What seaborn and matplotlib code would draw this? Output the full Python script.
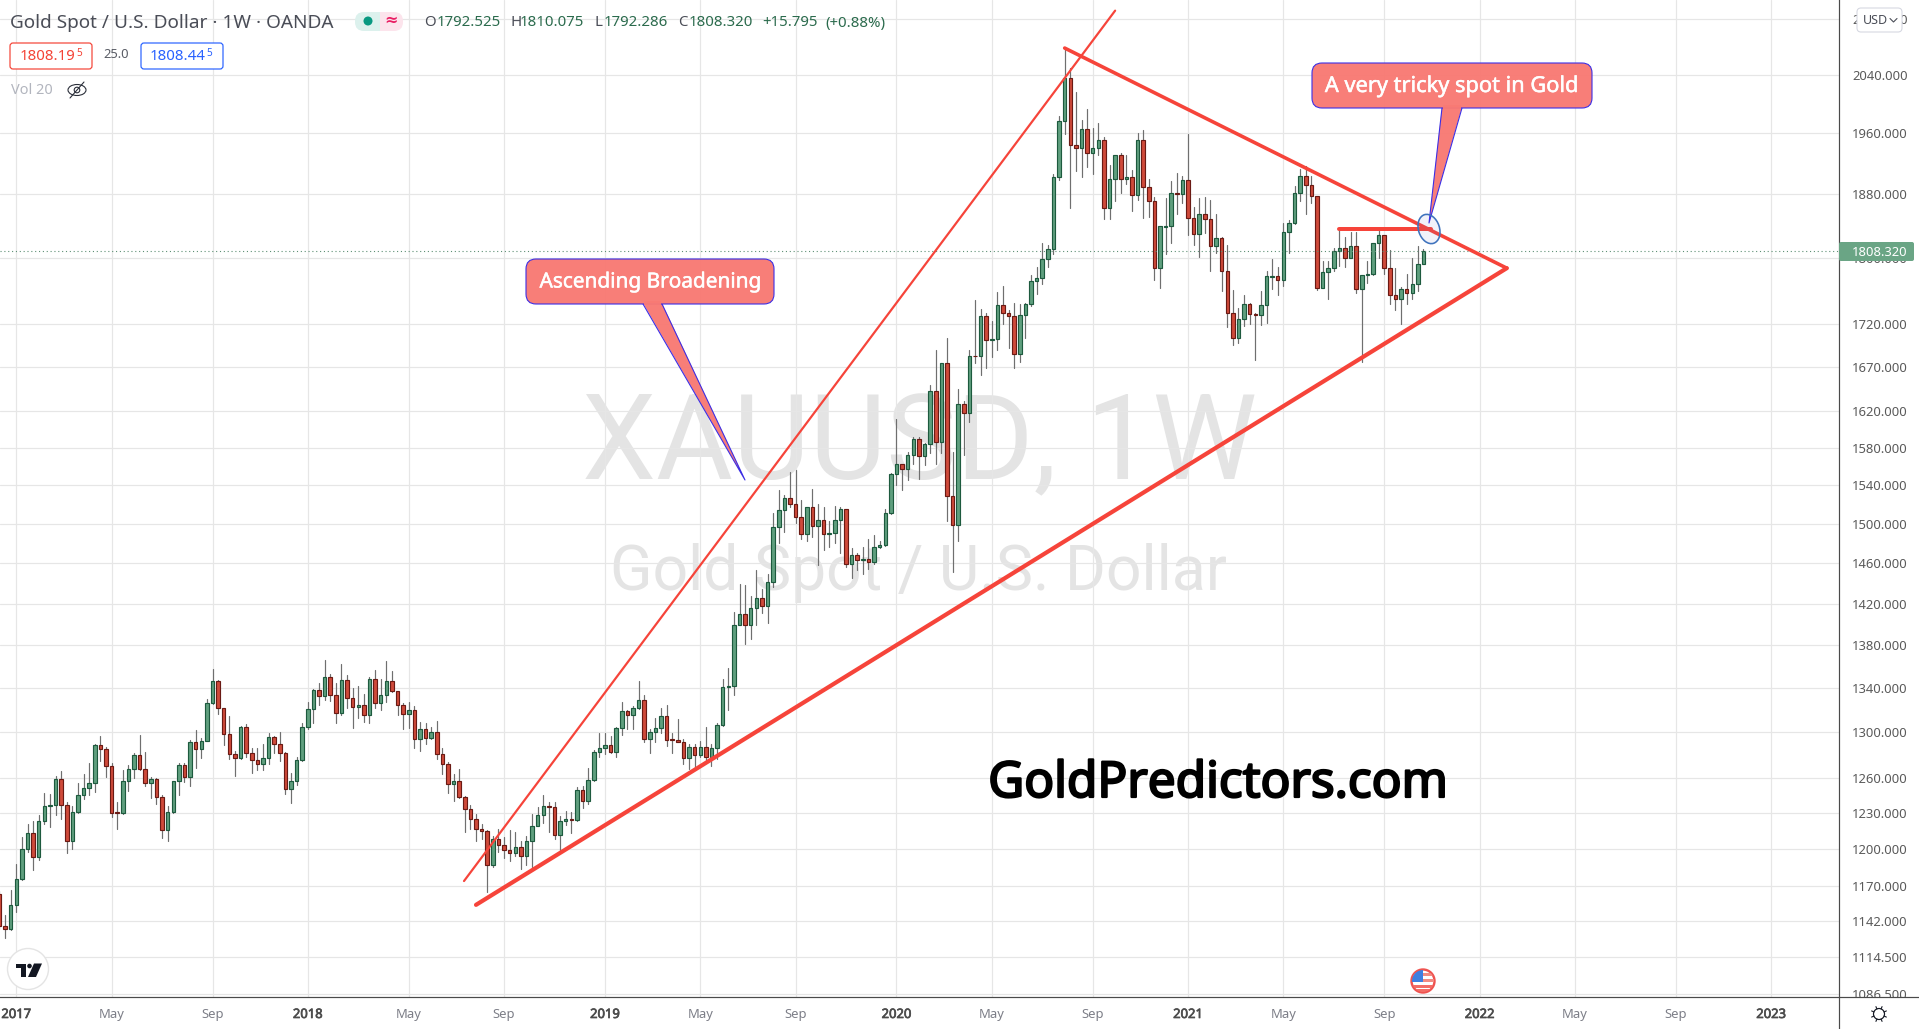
import numpy as np
import pandas as pd
import matplotlib
matplotlib.use("Agg")
import matplotlib.pyplot as plt
import matplotlib.patheffects as pe
import seaborn as sns
from matplotlib.patches import Circle, Ellipse, FancyBboxPatch, Polygon, Rectangle

# weekly XAUUSD candles
first_week = "2016-12-12"
opens = [
    1164, 1138.5, 1136, 1155, 1176, 1200, 1213, 1193.5, 1223, 1236,
    1237, 1259, 1237, 1207, 1231, 1245, 1251, 1256, 1289, 1285.5,
    1270, 1230.5, 1230, 1257, 1268, 1280, 1268, 1256, 1259, 1243.6,
    1215.4, 1231, 1257, 1270.8, 1260.6, 1291, 1285.5, 1292.6, 1326, 1347,
    1321.6, 1298.6, 1281, 1277.7, 1304.6, 1282, 1276, 1271.7, 1276.9, 1296,
    1290, 1282, 1250.3, 1257, 1276, 1304.6, 1320.7, 1338.7, 1332.4, 1350.4,
    1334, 1317, 1347.7, 1330.6, 1322.5, 1324.3, 1315.3, 1348.6, 1326, 1334,
    1347, 1337, 1324.3, 1316.2, 1320, 1294.3, 1303, 1295, 1300.3, 1281,
    1271.7, 1254.5, 1257, 1243.6, 1233.6, 1225.3, 1216.3, 1214.6, 1187, 1208,
    1203, 1199, 1196.7, 1201.6, 1194, 1206.5, 1219.5, 1228.5, 1236, 1235,
    1212, 1223.6, 1225.3, 1224.4, 1249.5, 1240, 1258, 1283, 1286.5, 1289,
    1283, 1303.8, 1319, 1315.3, 1321.6, 1328.8, 1294.3, 1300.3, 1303.8, 1314.4,
    1293.7, 1293.4, 1291.7, 1276.9, 1287, 1280, 1287, 1278.6, 1286.5, 1306.4,
    1341.4, 1342.3, 1399, 1410, 1399, 1415.6, 1425, 1418, 1441, 1496,
    1514, 1527, 1520, 1507, 1489, 1517, 1497, 1504, 1489, 1490,
    1504, 1515, 1459, 1468, 1463, 1464, 1461, 1476, 1478, 1511,
    1552, 1562, 1557, 1572, 1590, 1571, 1584, 1643, 1586, 1674,
    1529, 1499, 1628, 1618, 1683, 1683, 1729, 1701, 1702, 1742,
    1733, 1729, 1685, 1730, 1744, 1771, 1775, 1798, 1810, 1902,
    1977, 2036, 1944, 1940, 1966, 1934, 1940, 1951, 1862, 1899,
    1931, 1899, 1902, 1879, 1951, 1889, 1871, 1787, 1838, 1839,
    1881, 1880, 1898, 1849, 1829, 1855, 1848, 1814, 1824, 1784,
    1733, 1703, 1726, 1744, 1732, 1730, 1743, 1776, 1777, 1772,
    1832, 1843, 1881, 1903, 1892, 1878, 1763, 1782, 1787, 1808,
    1812, 1800, 1814, 1762, 1779, 1780, 1818, 1828, 1787, 1755,
    1750, 1762, 1757, 1768, 1792.525,
]
closes = [
    1138.5, 1136, 1155, 1176, 1200, 1213, 1193.5, 1223, 1236, 1237,
    1259, 1237, 1207, 1231, 1245, 1251, 1256, 1289, 1285.5, 1270,
    1230, 1230, 1257, 1268, 1280, 1268, 1256, 1259, 1243.6, 1215.4,
    1231, 1257, 1270.8, 1260.6, 1291, 1285.5, 1292.6, 1326, 1347, 1321.6,
    1298.6, 1281, 1277.7, 1304.6, 1282, 1276, 1271.7, 1276.9, 1296, 1290,
    1282, 1250.3, 1257, 1276, 1304.6, 1320.7, 1338.7, 1332.4, 1350.4, 1334,
    1317, 1347.7, 1330.6, 1322.5, 1324.3, 1315.3, 1348.6, 1326, 1334, 1347,
    1337, 1324.3, 1316.2, 1320, 1294.3, 1303, 1295, 1300.3, 1281, 1271.7,
    1254.5, 1257, 1243.6, 1233.6, 1225.3, 1216.3, 1214.6, 1187, 1208, 1203,
    1199, 1196.7, 1201.6, 1194, 1206.5, 1219.5, 1228.5, 1236, 1235, 1212,
    1223.6, 1225.3, 1224.4, 1249.5, 1240, 1258, 1283, 1286.5, 1289, 1283,
    1303.8, 1319, 1315.3, 1321.6, 1328.8, 1294.3, 1300.3, 1303.8, 1314.4, 1293.4,
    1293, 1291.7, 1276.9, 1287, 1280, 1287, 1278.6, 1286.5, 1306.4, 1341.4,
    1342.3, 1399, 1410, 1399, 1415.6, 1425, 1418, 1441, 1496, 1514,
    1527, 1520, 1507, 1489, 1517, 1497, 1504, 1489, 1490, 1504,
    1515, 1459, 1468, 1463, 1464, 1461, 1476, 1478, 1511, 1552,
    1562, 1557, 1572, 1590, 1571, 1584, 1643, 1586, 1674, 1529,
    1499, 1628, 1618, 1683, 1682, 1729, 1701, 1702, 1742, 1733,
    1729, 1685, 1730, 1744, 1771, 1775, 1798, 1810, 1902, 1977,
    2036, 1944, 1940, 1966, 1934, 1940, 1951, 1862, 1899, 1931,
    1899, 1902, 1879, 1951, 1889, 1871, 1787, 1839, 1839, 1881,
    1880, 1898, 1849, 1829, 1855, 1848, 1814, 1824, 1784, 1733,
    1703, 1726, 1744, 1732, 1730, 1743, 1777, 1777, 1772, 1832,
    1843, 1881, 1903, 1892, 1878, 1763, 1782, 1787, 1808, 1812,
    1800, 1814, 1762, 1779, 1780, 1818, 1828, 1787, 1755, 1750,
    1762, 1757, 1768, 1792.5, 1808.32,
]
highs = [
    1166, 1146.6, 1167, 1188, 1210, 1221, 1223, 1228, 1247, 1246.6,
    1262, 1265.7, 1239, 1236, 1255.7, 1263, 1273, 1290, 1297, 1287,
    1273, 1239, 1267, 1271.4, 1281.5, 1298, 1283, 1260.6, 1260, 1245,
    1236, 1257.7, 1272.6, 1272.6, 1293, 1302, 1294.6, 1330, 1358, 1347.5,
    1322, 1314.4, 1283.5, 1305.5, 1307, 1286, 1286, 1290, 1299, 1296.6,
    1300.3, 1282.3, 1264, 1278, 1308.4, 1327, 1339, 1345, 1366, 1353.4,
    1345, 1362, 1352.5, 1340.5, 1342, 1334.5, 1350.4, 1357, 1348.6, 1364.7,
    1356, 1337.5, 1326, 1327, 1323.4, 1309, 1308.4, 1304.6, 1310, 1286,
    1273.4, 1263.4, 1267.7, 1244.5, 1237, 1229, 1220.4, 1216, 1211, 1217,
    1210, 1215.4, 1214, 1206.8, 1211, 1229, 1235.5, 1245, 1239.6, 1239,
    1227.7, 1232, 1231, 1252, 1252.8, 1268.6, 1284, 1299.8, 1299, 1297,
    1304.6, 1327, 1320, 1323.4, 1347, 1333.6, 1302.6, 1312.6, 1321.6, 1325,
    1299, 1312, 1293.7, 1290, 1289.4, 1292.6, 1304.6, 1289.4, 1308, 1348.6,
    1358.6, 1412, 1439, 1438, 1427, 1453, 1434, 1449, 1511, 1535,
    1530, 1554, 1556, 1524, 1517, 1536, 1520, 1517, 1503, 1518,
    1517, 1515, 1475, 1470, 1476, 1484, 1488, 1482, 1515, 1553,
    1611, 1563, 1575, 1592, 1592, 1585, 1649, 1689, 1674, 1703,
    1575, 1645, 1632, 1690, 1748, 1738, 1733, 1723, 1758, 1765,
    1737, 1745, 1744, 1745, 1779, 1789, 1818, 1815, 1906, 1984,
    2078, 2050, 2016, 1978, 1993, 1967, 1974, 1955, 1918, 1931,
    1934, 1931, 1911, 1960, 1965, 1899, 1876, 1840, 1875, 1897,
    1907, 1903, 1959, 1863, 1875, 1876, 1872, 1855, 1825, 1816,
    1760, 1739, 1755, 1745, 1733, 1759, 1783, 1798, 1789, 1843,
    1847, 1891, 1913, 1917, 1904, 1878, 1796, 1796, 1812, 1835,
    1826, 1832, 1832, 1779, 1796, 1818, 1835, 1828, 1809, 1787,
    1764, 1780, 1800, 1814, 1810.075,
]
lows = [
    1136, 1129, 1135, 1149, 1175, 1198, 1183, 1191, 1221, 1218,
    1228.5, 1225, 1197, 1200, 1230, 1241.7, 1245, 1248, 1275, 1261,
    1227, 1217, 1229, 1249, 1260, 1266.5, 1253, 1242.5, 1237.5, 1209,
    1207, 1230, 1245, 1256.5, 1253.4, 1268.6, 1277, 1292, 1325.5, 1316.5,
    1289, 1276.6, 1262, 1276.6, 1278.6, 1264.5, 1266.5, 1267, 1272, 1281.5,
    1275, 1245.8, 1238.3, 1254.2, 1275, 1303, 1308, 1325, 1329, 1328.5,
    1308, 1315.6, 1321.6, 1303.5, 1313, 1309, 1308, 1322, 1320.4, 1327,
    1336, 1315.6, 1302.6, 1303.8, 1286, 1283.5, 1290, 1294, 1276.6, 1263,
    1247, 1240, 1242.5, 1213.8, 1217, 1207, 1208, 1165, 1185, 1198,
    1192.5, 1190, 1194, 1183.5, 1186.7, 1185, 1219, 1221.4, 1214, 1208.6,
    1199, 1220, 1213.5, 1223, 1234.7, 1237.5, 1257.7, 1278.3, 1281, 1282,
    1278.3, 1298, 1303, 1303, 1321, 1291.2, 1281.7, 1291.4, 1299, 1288,
    1281.7, 1291, 1272, 1267.7, 1268.6, 1278.3, 1275.7, 1270.5, 1276.6, 1306,
    1320.4, 1334, 1399, 1381, 1385.6, 1399, 1411, 1401, 1436, 1480,
    1491, 1517, 1501, 1484, 1482, 1486, 1458, 1473, 1476, 1480,
    1470, 1456, 1445, 1453, 1449, 1454, 1459, 1475, 1477, 1510,
    1540, 1535, 1545, 1563, 1546, 1561, 1574, 1563, 1574, 1503,
    1451, 1482, 1572, 1608, 1674, 1661, 1669, 1681, 1690, 1720,
    1692, 1669, 1676, 1703, 1741, 1756, 1768, 1789, 1805, 1898,
    1959, 1862, 1910, 1902, 1915, 1906, 1931, 1848, 1848, 1871,
    1881, 1893, 1858, 1872, 1849, 1851, 1773, 1763, 1805, 1818,
    1855, 1868, 1828, 1816, 1801, 1830, 1783, 1806, 1759, 1716,
    1695, 1698, 1718, 1720, 1678, 1719, 1721, 1762, 1755, 1765,
    1806, 1842, 1871, 1855, 1868, 1760, 1763, 1750, 1783, 1790,
    1788, 1800, 1757, 1676, 1769, 1779, 1800, 1780, 1744, 1736,
    1720, 1744, 1750, 1759, 1792.286,
]

last_price = 1808.32
price_ticks = [2120, 2040, 1960, 1880, 1800, 1720, 1670, 1620, 1580, 1540, 1500, 1460,
               1420, 1380, 1340, 1300, 1260, 1230, 1200, 1170, 1142, 1114.5, 1086.5]
time_ticks = ["2017-01-02", "2017-05-01", "2017-09-04", "2018-01-01", "2018-05-07", "2018-09-03",
              "2019-01-07", "2019-05-06", "2019-09-02", "2020-01-06", "2020-05-04", "2020-09-07",
              "2021-01-04", "2021-05-03", "2021-09-06", "2022-01-03", "2022-05-02", "2022-09-05",
              "2023-01-02"]
time_labels = ["2017", "May", "Sep", "2018", "May", "Sep", "2019", "May", "Sep", "2020", "May", "Sep",
               "2021", "May", "Sep", "2022", "May", "Sep", "2023"]

# drawn trend lines: dates, prices
thin_dates, thin_prices = ["2018-07-15", "2020-10-05"], [1174, 2132]
lower_dates, lower_prices = ["2018-07-30", "2022-02-06"], [1155, 1787]
upper_dates, upper_prices = ["2020-08-03", "2022-02-06"], [2078, 1787]
flat_dates, flat_prices = ["2021-07-11", "2021-11-04"], [1835, 1835]


def px(n):
    return n * 0.72


def heavy(width, color):
    # no bold cut of Noto Sans here, thicken the outline instead
    return [pe.withStroke(linewidth=px(width), foreground=color)]


sns.set_theme(style="white")
plt.rcParams["font.family"] = ["Noto Sans", "DejaVu Sans"]

W, H = 1919, 1029
fig = plt.figure(figsize=(W / 100, H / 100), dpi=100, facecolor="white")

# pixel-space layers behind and above the price chart
back = fig.add_axes([0, 0, 1, 1], zorder=0)
back.set_xlim(0, W)
back.set_ylim(H, 0)
back.axis("off")
back.text(920, 447, "XAUUSD, 1W", fontsize=px(118), color="#e4e4e4", ha="center", va="center", family="Roboto")
back.text(919, 573, "Gold Spot / U.S. Dollar", fontsize=px(62.5), color="#e4e4e4", ha="center", va="center", family="Roboto")

ax = fig.add_axes([0, 32 / H, 1839 / W, 997 / H], zorder=1)
ax.patch.set_alpha(0)

dates = pd.date_range(first_week, periods=len(opens), freq="W-MON")
candles = pd.DataFrame({"date": dates, "open": opens, "high": highs, "low": lows, "close": closes})
candles["up"] = candles["close"] >= candles["open"]

wicks = candles.melt(id_vars="date", value_vars=["low", "high"], value_name="price")
sns.lineplot(data=wicks, x="date", y="price", units="date", estimator=None, sort=False,
             color="#6f6f6f", linewidth=px(1.2), ax=ax, zorder=2)

body_low = candles[["open", "close"]].min(axis=1)
body_high = candles[["open", "close"]].max(axis=1)
fills = candles["up"].map({True: "#5f9f7e", False: "#cf4a3a"})
edges = candles["up"].map({True: "#1d5a3e", False: "#6a1a14"})
ax.bar(candles["date"], body_high - body_low, bottom=body_low, width=4.4, color=fills, edgecolor=edges,
       linewidth=px(1.15), zorder=3)

for xs, ys, w in [(thin_dates, thin_prices, 2.2), (lower_dates, lower_prices, 4.2),
                  (upper_dates, upper_prices, 3.6), (flat_dates, flat_prices, 4.0)]:
    sns.lineplot(x=pd.to_datetime(xs), y=ys, color="#f6443a", linewidth=px(w), errorbar=None, ax=ax, zorder=5)

ax.axhline(last_price, color="#5d8f74", linewidth=px(1.1), linestyle=(0, (1, 2.5)), zorder=4)

ax.set_yscale("log")
ax.set_ylim(1084.3, 2147.6)
base = pd.Timestamp("2017-01-02")
ax.set_xlim(base - pd.Timedelta(days=20.35), base + pd.Timedelta(days=2275.8))
ax.set_xlabel("")
ax.set_ylabel("")

ax.yaxis.tick_right()
ax.set_yticks(price_ticks)
ax.set_yticklabels([f"{v:.3f}" for v in price_ticks])
ax.minorticks_off()
ax.set_xticks(pd.to_datetime(time_ticks))
ax.set_xticklabels(time_labels)
ax.tick_params(axis="y", length=0, pad=px(13), labelsize=px(13), labelcolor="#5a5a5a")
ax.tick_params(axis="x", length=0, pad=px(11), labelsize=px(13), labelcolor="#7d7f88")
for lab in ax.get_xticklabels():
    if lab.get_text().isdigit():
        lab.set_color("#4c4c4c")
        lab.set_path_effects(heavy(0.7, "#4c4c4c"))
ax.grid(True, color="#e6e6e6", linewidth=px(1.2), zorder=0)
ax.set_axisbelow(True)
sns.despine(ax=ax, left=True, top=True, right=False)
for side in ["right", "bottom"]:
    ax.spines[side].set_color("#4a4a4a")
    ax.spines[side].set_linewidth(px(1.2))

top = fig.add_axes([0, 0, 1, 1], zorder=2)
top.set_xlim(0, W)
top.set_ylim(H, 0)
top.axis("off")
top.patch.set_alpha(0)

# corner below the price scale hides the clipped bottom label
top.add_patch(Rectangle((1840, 998), 79, 31, color="white", zorder=1))
top.plot([1839, W], [997, 997], color="#4a4a4a", linewidth=px(1.2), zorder=2)
top.plot([1839, 1839], [997, H], color="#4a4a4a", linewidth=px(1.2), zorder=2)

# header
top.text(10, 23, "Gold Spot / U.S. Dollar · 1W · OANDA", fontsize=px(19), color="#4a4d57", va="center")
top.add_patch(FancyBboxPatch((358, 12), 45, 19, boxstyle="round,pad=0,rounding_size=9", fc="#fce4ec", ec="none"))
top.add_patch(FancyBboxPatch((355, 12), 25, 19, boxstyle="round,pad=0,rounding_size=9", fc="#dcf1ed", ec="none"))
top.add_patch(Rectangle((372, 12), 8, 19, fc="#dcf1ed", ec="none"))
top.add_patch(Circle((368, 21), 4.5, fc="#089981", ec="none"))
top.text(391, 21, "≈", fontsize=px(16), color="#e91e63", ha="center", va="center", fontweight="bold")

ohlc_grey = "#4a4d57"
ohlc_green = "#2b6b4d"
for x, s, c in [(424, "O", ohlc_grey), (437, "1792.525", ohlc_green), (510, "H", ohlc_grey), (520, "1810.075", ohlc_green),
                (595, "L", ohlc_grey), (604, "1792.286", ohlc_green), (678, "C", ohlc_grey), (689, "1808.320", ohlc_green),
                (762, "+15.795", ohlc_green), (825, "(+0.88%)", ohlc_green)]:
    top.text(x, 23, s, fontsize=px(15), color=c, va="center")

top.add_patch(FancyBboxPatch((10, 43), 82, 26, boxstyle="round,pad=0,rounding_size=3", fc="white", ec="#f44336", lw=px(1.2)))
top.text(19.5, 56, "1808.19", fontsize=px(15), color="#f44336", va="center")
top.text(76, 54, "5", fontsize=px(10), color="#f44336", va="center")
top.text(103, 55, "25.0", fontsize=px(13), color="#5a5d66", va="center")
top.add_patch(FancyBboxPatch((141, 43), 82, 26, boxstyle="round,pad=0,rounding_size=3", fc="white", ec="#2962ff", lw=px(1.2)))
top.text(150, 56, "1808.44", fontsize=px(15), color="#2962ff", va="center")
top.text(206.5, 54, "5", fontsize=px(10), color="#2962ff", va="center")
top.text(11, 91, "Vol 20", fontsize=px(14.5), color="#b2b5be", va="center")
top.add_patch(Ellipse((77, 90), 18, 11, fc="none", ec="#2a2e39", lw=px(1.1)))
top.add_patch(Circle((77, 90), 2.8, fc="none", ec="#2a2e39", lw=px(1.1)))
top.plot([70, 84], [98, 82], color="#2a2e39", linewidth=px(1.1))

# price scale decorations
top.add_patch(FancyBboxPatch((1839, 242), 75, 19, boxstyle="round,pad=0,rounding_size=2", fc="#6aa585", ec="none", zorder=3))
top.text(1852, 252, "1808.320", fontsize=px(13), color="white", va="center", zorder=4)
top.add_patch(FancyBboxPatch((1857, 8), 45, 24, boxstyle="round,pad=0,rounding_size=4", fc="white", ec="#d6d8e2", lw=px(1.1), zorder=3))
top.text(1863, 20, "USD", fontsize=px(12.5), color="#4a4d57", va="center", zorder=4)
top.plot([1890, 1893.5, 1897], [18.5, 22, 18.5], color="#4a4d57", linewidth=px(1.1), zorder=4)

# gear button
top.add_patch(Circle((1879, 1014), 5.5, fc="none", ec="#131722", lw=px(1.2), zorder=4))
for a in np.arange(0, 360, 45) + 22.5:
    ca, sa = np.cos(np.radians(a)), np.sin(np.radians(a))
    top.plot([1879 + 5.5 * ca, 1879 + 8 * ca], [1014 + 5.5 * sa, 1014 + 8 * sa], color="#131722", linewidth=px(1.1), zorder=4)

# logo button
top.add_patch(Circle((28, 969), 20.5, fc="white", ec="#e4e4e4", lw=px(1.4), zorder=3))
top.add_patch(Polygon([(16, 963.5), (25.5, 963.5), (25.5, 977), (20.5, 977), (20.5, 967.5), (16, 967.5)], fc="#131722", ec="none", zorder=4))
top.add_patch(Circle((29.5, 966), 2.3, fc="#131722", ec="none", zorder=4))
top.add_patch(Polygon([(34, 963.5), (42, 963.5), (36, 977), (28, 977)], fc="#131722", ec="none", zorder=4))

# flag event marker
clip = Circle((1423, 981), 11, transform=top.transData)
top.add_patch(Circle((1423, 981), 11.5, fc="white", ec="#ef5350", lw=px(2.4), zorder=3))
for y0, hh, col in [(973, 3, "#f28b82"), (979, 3, "#f28b82"), (985, 3, "#f26d66"), (989, 3, "#f26d66")]:
    r = Rectangle((1411, y0), 24, hh, fc=col, ec="none", zorder=4)
    top.add_patch(r)
    r.set_clip_path(clip)
canton = Rectangle((1411, 970), 12, 12, fc="#3f7fe0", ec="none", zorder=5)
top.add_patch(canton)
canton.set_clip_path(clip)

# callouts
callout_face = (0.972, 0.478, 0.455, 0.97)
callout_edge = "#3a2ee6"


def callout(x0, y0, x1, y1, base0, base1, tip, text, size):
    top.add_patch(Polygon([(base0, y1 - 1), (base1, y1 - 1), tip], fc=callout_face, ec="none", zorder=3))
    top.plot([base0, tip[0], base1], [y1, tip[1], y1], color=callout_edge, linewidth=px(1.1), zorder=3)
    top.add_patch(FancyBboxPatch((x0, y0), x1 - x0, y1 - y0, boxstyle="round,pad=0,rounding_size=10",
                                 fc=callout_face, ec=callout_edge, lw=px(1.1), zorder=3))
    top.add_patch(Rectangle((base0 + 1, y1 - 3), base1 - base0 - 2, 4, fc=callout_face, ec="none", zorder=4))
    top.text((x0 + x1) / 2, (y0 + y1) / 2 + 1, text, fontsize=px(size), color="white", ha="center", va="center", zorder=5,
             path_effects=heavy(0.5, "white"))


callout(526, 259, 774, 304, 643, 662, (745, 480), "Ascending Broadening", 20.8)
callout(1312, 63, 1592, 108, 1442, 1462, (1429, 223), "A very tricky spot in Gold", 21.8)

top.add_patch(Ellipse((1429, 229), 21, 30, angle=-18, fc=(0.4, 0.45, 0.8, 0.09), ec="#3f73bd", lw=px(1.6), zorder=6))

top.text(1218, 784, "GoldPredictors.com", fontsize=px(49.5), color="black", ha="center", va="center", zorder=5,
         path_effects=heavy(2.2, "black"))

fig.savefig("out.png", dpi=100, facecolor="white")
